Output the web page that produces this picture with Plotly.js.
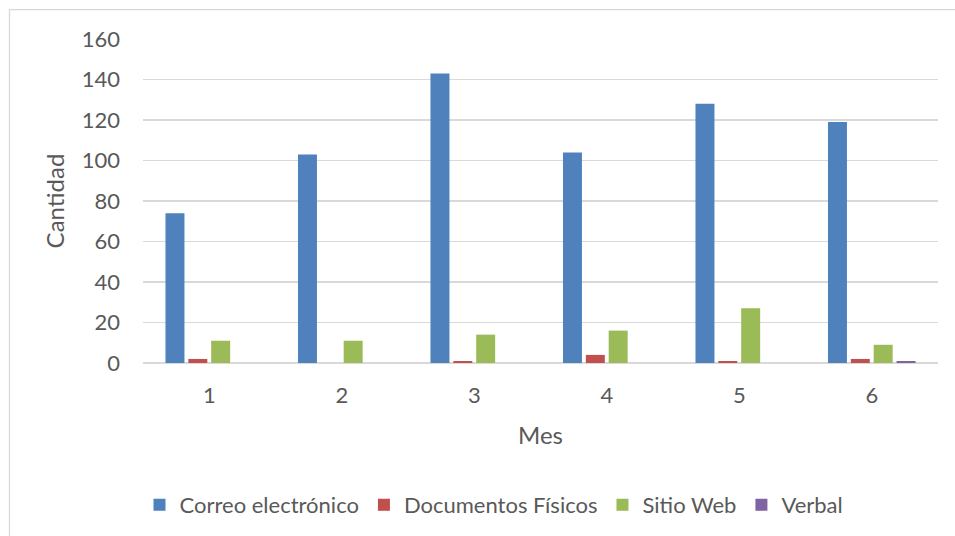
<!DOCTYPE html>
<html>
<head>
<meta charset="utf-8">
<script src="https://cdn.plot.ly/plotly-3.0.1.min.js"></script>
<style>
html,body{margin:0;padding:0;background:#fff;}
#chart{width:955px;height:536px;}
</style>
</head>
<body>
<div id="chart"></div>
<script>
const months = ['1','2','3','4','5','6'];
const correo = [74, 103, 143, 104, 128, 119];
const documentos = [2, 0, 1, 4, 1, 2];
const sitioWeb = [11, 11, 14, 16, 27, 9];
const verbal = [0, 0, 0, 0, 0, 1];

const seriesNames = ['Correo electrónico', 'Documentos Físicos', 'Sitio Web', 'Verbal'];
const seriesValues = [correo, documentos, sitioWeb, verbal];
const seriesColors = ['#4f81bd', '#c0504d', '#9bbb59', '#8064a2'];

const traces = seriesNames.map((n, i) => ({
  type: 'bar',
  name: n,
  x: months,
  y: seriesValues[i],
  marker: {color: seriesColors[i]},
  hoverinfo: 'x+y+name'
}));

const W = 955, H = 536;
const m = {l: 143, r: 17, t: 39, b: 172};
const pw = W - m.l - m.r, ph = H - m.t - m.b;
const px = v => (v - m.l) / pw;
const py = v => (H - m.b - v) / ph;

const layout = {
  width: W, height: H,
  margin: m,
  paper_bgcolor: '#ffffff',
  plot_bgcolor: '#ffffff',
  font: {family: 'Lato, "Open Sans", sans-serif', size: 22, color: '#595959'},
  barmode: 'group',
  bargap: 0.31,
  bargroupgap: 0.17,
  showlegend: true,
  legend: {
    orientation: 'h',
    x: px(494), xanchor: 'center',
    y: py(505), yanchor: 'middle',
    font: {size: 22, color: '#595959'},
    itemwidth: 30,
    traceorder: 'normal'
  },
  xaxis: {
    type: 'category',
    showgrid: false,
    showline: false,
    ticks: '',
    ticklabelstandoff: 17,
    tickfont: {size: 22, color: '#595959'},
    title: {text: 'Mes', font: {size: 24, color: '#595959'}, standoff: 20}
  },
  yaxis: {
    range: [0, 160],
    dtick: 20,
    showgrid: true,
    gridcolor: '#d9d9d9',
    gridwidth: 1.3,
    zeroline: true,
    zerolinecolor: '#d9d9d9',
    zerolinewidth: 1.5,
    showline: false,
    ticks: '',
    ticklen: 0,
    ticklabelstandoff: 22,
    tickfont: {size: 22, color: '#595959'},
    title: {text: 'Cantidad', font: {size: 24, color: '#595959'}, standoff: 10}
  },
  shapes: [{
    type: 'rect', xref: 'paper', yref: 'paper',
    x0: px(9.5), x1: px(960), y0: py(9.5), y1: py(545),
    line: {color: '#d9d9d9', width: 1.3},
    fillcolor: 'rgba(0,0,0,0)',
    layer: 'below'
  }]
};

Plotly.newPlot('chart', traces, layout, {displayModeBar: false, staticPlot: true});
</script>
</body>
</html>
